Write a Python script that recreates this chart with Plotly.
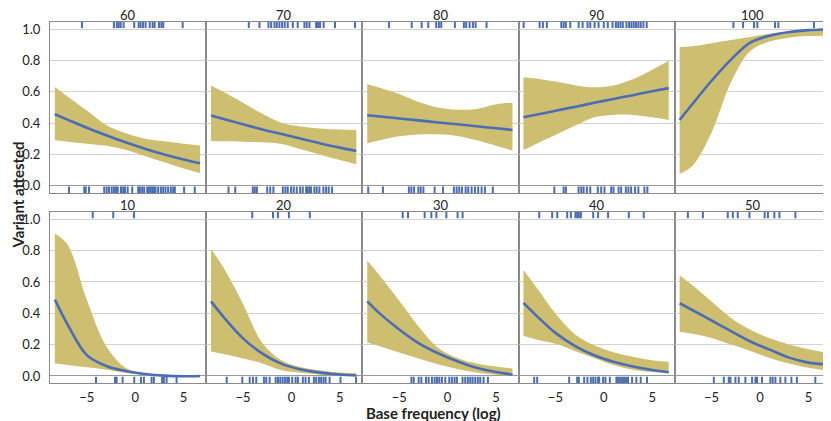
import plotly.graph_objects as go
from plotly.subplots import make_subplots

# ---------------- data ----------------
PANELS = [60, 70, 80, 90, 100, 10, 20, 30, 40, 50]
X_GRID = [-8.3, -7, -5, -3, -1, 1, 3, 5, 6.7]
Y_TICKS = [0.0, 0.2, 0.4, 0.6, 0.8, 1.0]
X_TICKS = [-5, 0, 5]

fit_60 = [0.456, 0.422, 0.370, 0.322, 0.277, 0.236, 0.199, 0.167, 0.143]
upper_60 = [0.63, 0.57, 0.48, 0.388, 0.336, 0.30, 0.283, 0.268, 0.256]
lower_60 = [0.29, 0.281, 0.268, 0.255, 0.23, 0.19, 0.15, 0.11, 0.08]

fit_70 = [0.448, 0.426, 0.392, 0.359, 0.33, 0.30, 0.27, 0.243, 0.222]
upper_70 = [0.64, 0.598, 0.529, 0.459, 0.40, 0.378, 0.365, 0.358, 0.356]
lower_70 = [0.286, 0.284, 0.281, 0.277, 0.267, 0.233, 0.198, 0.164, 0.137]

fit_80 = [0.45, 0.442, 0.429, 0.417, 0.404, 0.392, 0.379, 0.367, 0.356]
upper_80 = [0.648, 0.625, 0.585, 0.535, 0.50, 0.485, 0.49, 0.52, 0.53]
lower_80 = [0.271, 0.29, 0.315, 0.327, 0.328, 0.318, 0.29, 0.255, 0.224]

fit_90 = [0.437, 0.453, 0.478, 0.503, 0.529, 0.554, 0.578, 0.603, 0.623]
upper_90 = [0.693, 0.685, 0.665, 0.642, 0.628, 0.64, 0.68, 0.74, 0.797]
lower_90 = [0.228, 0.267, 0.324, 0.382, 0.437, 0.452, 0.452, 0.437, 0.42]

fit_100 = [0.42, 0.52, 0.67, 0.805, 0.914, 0.957, 0.981, 0.993, 0.998]
upper_100 = [0.885, 0.89, 0.91, 0.93, 0.95, 0.97, 0.985, 0.995, 0.999]
lower_100 = [0.075, 0.125, 0.34, 0.66, 0.86, 0.92, 0.945, 0.955, 0.958]

fit_10 = [0.487, 0.33, 0.133, 0.064, 0.032, 0.013, 0.002, -0.002, 0.0]
upper_10 = [0.91, 0.84, 0.487, 0.192, 0.053, 0.015, 0.004, 0.001, 0.0]
lower_10 = [0.079, 0.07, 0.055, 0.04, 0.02, 0.005, 0.0, 0.0, 0.0]

fit_20 = [0.476, 0.376, 0.24, 0.143, 0.077, 0.041, 0.021, 0.009, 0.003]
upper_20 = [0.81, 0.69, 0.46, 0.21, 0.098, 0.055, 0.035, 0.022, 0.017]
lower_20 = [0.156, 0.14, 0.112, 0.08, 0.036, 0.02, 0.008, 0.002, 0.0]

fit_30 = [0.476, 0.398, 0.297, 0.21, 0.145, 0.094, 0.052, 0.025, 0.008]
upper_30 = [0.737, 0.64, 0.48, 0.315, 0.18, 0.115, 0.08, 0.06, 0.047]
lower_30 = [0.214, 0.19, 0.15, 0.112, 0.075, 0.045, 0.022, 0.008, 0.003]

fit_40 = [0.466, 0.387, 0.275, 0.192, 0.132, 0.09, 0.06, 0.038, 0.024]
upper_40 = [0.677, 0.57, 0.40, 0.267, 0.196, 0.152, 0.122, 0.10, 0.09]
lower_40 = [0.256, 0.232, 0.205, 0.16, 0.115, 0.07, 0.04, 0.025, 0.017]

fit_50 = [0.464, 0.421, 0.354, 0.286, 0.22, 0.168, 0.117, 0.085, 0.075]
upper_50 = [0.641, 0.58, 0.475, 0.37, 0.295, 0.24, 0.20, 0.17, 0.15]
lower_50 = [0.282, 0.27, 0.243, 0.20, 0.16, 0.115, 0.08, 0.052, 0.036]

# rug: base frequency of attested (1) and non-attested (0) items
rug1_60 = [-5.5, -2.2, -1.9, -1.7, -1.5, -1.2, -0.1, 0.35, 0.55, 0.8, 1.07, 1.5, 1.8, 2.0, 2.45, 2.7, 2.9, 4.9]
rug0_60 = [-6.84, -5.26, -5.11, -4.77, -3.2, -2.95, -2.71, -2.43, -2.2, -1.99, -1.81, -1.47, -1.24, -1.06,
           -0.78, -0.31, 0.31, 0.48, 0.72, 0.93, 1.24, 1.41, 1.59, 1.75, 1.93, 2.1, 2.37, 2.65, 2.89, 3.13,
           3.4, 3.68, 3.92, 4.09, 5.05, 6.15]
rug1_70 = [-4.4, -3.3, -2.37, -2.09, -1.75, -1.51, -1.24, -0.96, -0.69, -0.38, 0.14, 0.65, 1.34, 1.58, 1.86,
           2.55, 2.75, 2.96, 3.33, 4.5, 6.57]
rug0_70 = [-6.5, -5.8, -3.99, -3.78, -3.57, -2.5, -2.19, -1.86, -0.89, -0.62, -0.38, -0.03, 0.24, 0.55, 0.9,
           1.17, 1.52, 1.68, 1.86, 2.03, 2.37, 2.61, 2.89, 3.3, 3.58, 3.85, 4.2]
rug1_80 = [-6.05, -3.71, -2.68, -2.0, -1.18, -0.9, -0.66, 0.75, 1.68, 1.92, 2.27, 2.61, 2.89, 4.02]
rug0_80 = [-8.2, -6.68, -4.0, -3.74, -3.46, -3.02, -2.78, -2.5, -1.34, -0.48, 0.65, 0.93, 1.2, 1.48, 1.86,
           2.13, 2.48, 2.82, 3.16, 3.51, 3.85, 4.67]
rug1_90 = [-8.28, -6.63, -6.29, -5.88, -4.39, -4.15, -3.92, -3.46, -2.6, -2.19, -1.68, -1.4, -0.96, -0.54,
           0.0, 0.41, 0.9, 1.24, 1.48, 1.72, 1.96, 2.34, 2.61, 2.85, 3.09, 3.33, 3.57, 3.81, 4.09, 4.43]
rug0_90 = [-5.11, -4.15, -3.92, -2.61, -2.33, -2.09, -1.75, -1.4, -0.62, -0.27, 0.07, 0.76, 1.0, 1.52, 1.79,
           2.27, 2.54, 2.82, 3.23, 3.57, 4.19, 4.5]
rug1_100 = [-2.75, -1.75, -0.62, -0.28, 1.55, 1.89, 5.57]
rug0_100 = []
rug1_10 = [-4.39, -2.27, -0.13]
rug0_10 = [-4.05, -2.09, -1.92, -1.3, -0.1, 0.59, 0.9, 1.69, 1.93, 2.78, 2.96, 3.24, 4.27]
rug1_20 = [-4.04, -1.9, -1.39, -0.26, 1.9]
rug0_20 = [-6.68, -5.07, -4.31, -3.97, -3.63, -2.84, -2.6, -2.25, -1.63, -1.39, -1.15, -0.91, -0.67, -0.43,
           -0.26, 0.08, 0.43, 0.67, 1.18, 1.46, 1.8, 2.32, 2.56, 2.84, 3.07, 3.32, 3.53, 3.94, 5.07, 6.68]
rug1_30 = [-4.64, -4.09, -2.37, -1.68, -1.16, -0.13, 1.03, 1.55]
rug0_30 = [-3.74, -3.5, -2.99, -2.71, -2.23, -1.96, -1.62, -1.34, -1.1, -0.86, -0.59, -0.24, 0.17, 0.44,
           0.72, 0.96, 1.54, 1.82, 2.09, 2.34, 2.58, 2.85, 3.12, 3.37, 3.71, 4.16]
rug1_40 = [-6.67, -5.33, -4.81, -3.78, -3.4, -2.93, -2.75, -2.58, -2.37, -1.1, -0.59, 0.44, 2.58, 4.12]
rug0_40 = [-7.19, -6.88, -3.58, -2.75, -2.58, -2.03, -1.69, -1.34, -1.1, -0.86, -0.59, -0.48, -0.07, 0.17,
           0.62, 1.3, 1.47, 1.68, 1.89, 2.09, 2.3, 2.5, 2.92, 3.36, 3.81, 4.46]
rug1_50 = [-7.45, -5.9, -3.33, -2.81, -2.3, -1.09, 0.48, 0.82, 1.48, 2.0, 3.65]
rug0_50 = [-4.77, -3.74, -3.23, -3.05, -2.54, -2.2, -1.51, -0.82, -0.47, -0.31, 0.21, 1.07, 1.31, 1.59,
           2.1, 2.62, 3.24, 3.81, 5.71]

FIT = {60: fit_60, 70: fit_70, 80: fit_80, 90: fit_90, 100: fit_100,
       10: fit_10, 20: fit_20, 30: fit_30, 40: fit_40, 50: fit_50}
UPPER = {60: upper_60, 70: upper_70, 80: upper_80, 90: upper_90, 100: upper_100,
         10: upper_10, 20: upper_20, 30: upper_30, 40: upper_40, 50: upper_50}
LOWER = {60: lower_60, 70: lower_70, 80: lower_80, 90: lower_90, 100: lower_100,
         10: lower_10, 20: lower_20, 30: lower_30, 40: lower_40, 50: lower_50}
RUG1 = {60: rug1_60, 70: rug1_70, 80: rug1_80, 90: rug1_90, 100: rug1_100,
        10: rug1_10, 20: rug1_20, 30: rug1_30, 40: rug1_40, 50: rug1_50}
RUG0 = {60: rug0_60, 70: rug0_70, 80: rug0_80, 90: rug0_90, 100: rug0_100,
        10: rug0_10, 20: rug0_20, 30: rug0_30, 40: rug0_40, 50: rug0_50}

# ---------------- style ----------------
BLUE = "#4a6db4"
RIBBON = "#cdbf6f"
FONT = "Lato"
TEXT = "#222222"
RUG_TOP_Y = 1.029
RUG_BOT_Y = -0.027

fig = make_subplots(rows=2, cols=5, horizontal_spacing=0, vertical_spacing=0.054)

for i, p in enumerate(PANELS):
    r, c = i // 5 + 1, i % 5 + 1
    fig.add_trace(go.Scatter(x=X_GRID, y=LOWER[p], mode="lines",
                             line=dict(width=0, shape="spline"), hoverinfo="skip",
                             showlegend=False), row=r, col=c)
    fig.add_trace(go.Scatter(x=X_GRID, y=UPPER[p], mode="lines",
                             line=dict(width=0, shape="spline"), fill="tonexty",
                             fillcolor=RIBBON, hoverinfo="skip", showlegend=False), row=r, col=c)
    fig.add_trace(go.Scatter(x=X_GRID, y=FIT[p], mode="lines",
                             line=dict(color=BLUE, width=2.6, shape="spline"),
                             showlegend=False), row=r, col=c)
    for rug, yv in ((RUG1[p], RUG_TOP_Y), (RUG0[p], RUG_BOT_Y)):
        if rug:
            fig.add_trace(go.Scatter(x=rug, y=[yv] * len(rug), mode="markers",
                                     marker=dict(symbol="line-ns", size=5,
                                                 line=dict(width=2, color=BLUE)),
                                     showlegend=False, cliponaxis=False), row=r, col=c)

fig.update_xaxes(range=[-8.8, 7.33], showgrid=False, zeroline=False,
                 showline=True, mirror=True, linecolor="#8a8a8a", linewidth=1,
                 tickvals=X_TICKS, ticks="outside", ticklen=2,
                 tickcolor="rgba(0,0,0,0)",
                 tickfont=dict(family=FONT, size=13, color=TEXT))
fig.update_xaxes(showticklabels=False, row=1)

fig.update_yaxes(range=[-0.045, 1.045], tickvals=Y_TICKS, tickformat=".1f",
                 showgrid=True, gridcolor="#d2d2d2", gridwidth=1,
                 zeroline=True, zerolinecolor="#9a9a9a", zerolinewidth=1,
                 showline=True, mirror=True, linecolor="#8a8a8a", linewidth=1,
                 ticks="outside", ticklen=6, tickcolor="rgba(0,0,0,0)",
                 tickfont=dict(family=FONT, size=13, color=TEXT))
for c in range(2, 6):
    fig.update_yaxes(showticklabels=False, col=c)

# plot area in page pixels: x 50..831, y 22..383 (page body offsets the figure by 8px)
PLOT_H = 361.0
PLOT_W = 781.0

annotations = []
for i, p in enumerate(PANELS):
    r, c = i // 5, i % 5
    annotations.append(dict(text=str(p), x=(c + 0.5) / 5,
                            y=(1 + 7.5 / PLOT_H) if r == 0 else (383 - 205) / PLOT_H,
                            xref="paper", yref="paper", showarrow=False,
                            xanchor="center", yanchor="middle",
                            font=dict(family=FONT, size=13, color=TEXT)))
annotations.append(dict(text="<b>Base frequency (log)</b>", x=(433 - 50) / PLOT_W,
                        y=(383 - 412.5) / PLOT_H, xref="paper",
                        yref="paper", showarrow=False, xanchor="center", yanchor="middle",
                        font=dict(family=FONT, size=15, color=TEXT)))
annotations.append(dict(text="<b>Variant attested</b>", x=(17.5 - 50) / PLOT_W,
                        y=(383 - 195) / PLOT_H, xref="paper",
                        yref="paper", showarrow=False, textangle=-90,
                        xanchor="center", yanchor="middle",
                        font=dict(family=FONT, size=15, color=TEXT)))

fig.update_layout(width=823, height=413, margin=dict(l=42, r=0, t=14, b=38),
                  paper_bgcolor="white", plot_bgcolor="white",
                  annotations=annotations, showlegend=False)

fig.write_html("out.html")
